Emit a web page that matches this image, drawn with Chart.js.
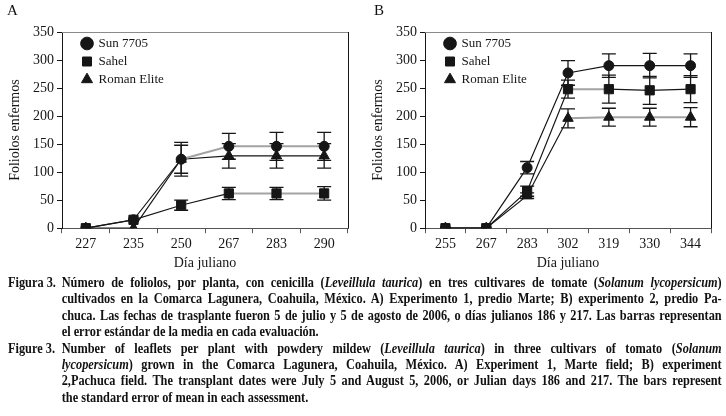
<!DOCTYPE html>
<html>
<head>
<meta charset="utf-8">
<script src="https://cdn.jsdelivr.net/npm/chart.js@4.4.1/dist/chart.umd.min.js"></script>
<style>
  html, body { margin: 0; padding: 0; background: #fff; }
  body { width: 726px; height: 416px; position: relative; overflow: hidden; font-family: "Liberation Serif", serif; color: #111; }
  .wrap { position: absolute; top: 0; width: 363px; height: 276px; }
  .panel { position: absolute; top: 3px; font-size: 15px; line-height: 15px; }
  #caption { position: absolute; left: 8px; top: 275px; transform-origin: 0 0; transform: scaleX(0.88); width: 811px; font-weight: bold; font-size: 14px; line-height: 16.4px; }
  .ln { text-align: justify; text-align-last: justify; padding-left: 61px; }
  .ln.end { text-align-last: left; }
  .lab { display: inline-block; width: 61px; margin-left: -61px; text-align-last: left; }
</style>
</head>
<body>
<div class="wrap" style="left:0"><canvas id="chartA"></canvas></div>
<div class="wrap" style="left:363px"><canvas id="chartB"></canvas></div>
<div class="panel" style="left:7px">A</div>
<div class="panel" style="left:374px">B</div>

<div id="caption">
  <div class="ln"><span class="lab">Figura 3.</span>Número de foliolos, por planta, con cenicilla (<i>Leveillula taurica</i>) en tres cultivares de tomate (<i>Solanum lycopersicum</i>)</div>
  <div class="ln">cultivados en la Comarca Lagunera, Coahuila, México. A) Experimento 1, predio Marte; B) experimento 2, predio Pa-</div>
  <div class="ln">chuca. Las fechas de trasplante fueron 5 de julio y 5 de agosto de 2006, o días julianos 186 y 217. Las barras representan</div>
  <div class="ln end">el error estándar de la media en cada evaluación.</div>
  <div class="ln"><span class="lab">Figure 3.</span>Number of leaflets per plant with powdery mildew (<i>Leveillula taurica</i>) in three cultivars of tomato (<i>Solanum</i></div>
  <div class="ln"><i>lycopersicum</i>) grown in the Comarca Lagunera, Coahuila, México. A) Experiment 1, Marte field; B) experiment</div>
  <div class="ln">2,Pachuca field. The transplant dates were July 5 and August 5, 2006, or Julian days 186 and 217. The bars represent</div>
  <div class="ln end">the standard error of mean in each assessment.</div>
</div>

<script>
// Experimento 1 (predio Marte)
const daysA = ['227', '235', '250', '267', '283', '290'];
const sunA = [0, 15, 123, 146, 146, 146];
const sunAErr = [0, 0, 30, 23, 25, 25];
const sahelA = [0, 15, 41, 62, 62, 62];
const sahelAErr = [0, 0, 9, 11, 11, 12];
const romanA = [0, 0, 123, 129, 129, 129];
const romanAErr = [0, 0, 25, 22, 22, 22];

// Experimento 2 (predio Pachuca)
const daysB = ['255', '267', '283', '302', '319', '330', '344'];
const sunB = [0, 0, 108, 277, 290, 290, 290];
const sunBErr = [0, 0, 11, 22, 21, 22, 21];
const sahelB = [0, 0, 66, 248, 248, 246, 248];
const sahelBErr = [0, 0, 9, 16, 25, 25, 24];
const romanB = [0, 0, 58, 196, 198, 198, 198];
const romanBErr = [0, 0, 5, 17, 16, 16, 17];

const yTicks = [0, 50, 100, 150, 200, 250, 300, 350];

const dark = '#161616';
const gray = '#a3a3a3';
const serif = '"Liberation Serif", serif';

// barras de error estándar
const errorBars = {
    id: 'errorBars',
    beforeDatasetsDraw(chart) {
        const ctx = chart.ctx;
        const y = chart.scales.y;
        chart.data.datasets.forEach((ds, i) => {
            const meta = chart.getDatasetMeta(i);
            ctx.save();
            ctx.strokeStyle = dark;
            ctx.lineWidth = 1.3;
            meta.data.forEach((pt, j) => {
                const e = ds.errors[j];
                if (!e) return;
                const top = y.getPixelForValue(ds.data[j] + e);
                const bot = y.getPixelForValue(ds.data[j] - e);
                ctx.beginPath();
                ctx.moveTo(pt.x, top); ctx.lineTo(pt.x, bot);
                ctx.moveTo(pt.x - 7, top); ctx.lineTo(pt.x + 7, top);
                ctx.moveTo(pt.x - 7, bot); ctx.lineTo(pt.x + 7, bot);
                ctx.stroke();
            });
            ctx.restore();
        });
    }
};

// marco superior y derecho + leyenda dentro del área de trazado
const frame = {
    id: 'frame',
    afterLayout(chart) {
        const a = chart.chartArea;
        const lg = chart.legend;
        const h = lg.bottom - lg.top;
        lg.left += 15;
        lg.right += 15;
        lg.top = a.top;
        lg.bottom = a.top + h;
    },
    afterDraw(chart) {
        const a = chart.chartArea;
        const ctx = chart.ctx;
        ctx.save();
        ctx.lineWidth = 1;
        ctx.strokeStyle = '#8a8a8a';
        ctx.beginPath(); ctx.moveTo(a.left, a.top + 0.5); ctx.lineTo(a.right, a.top + 0.5); ctx.stroke();
        ctx.strokeStyle = dark;
        ctx.beginPath(); ctx.moveTo(a.right + 0.5, a.top); ctx.lineTo(a.right + 0.5, a.bottom); ctx.stroke();
        ctx.restore();
    }
};

function series(label, data, errors, style, radius, graySegs) {
    return {
        label: label,
        data: data,
        errors: errors,
        borderColor: dark,
        backgroundColor: dark,
        borderWidth: 1.2,
        pointStyle: style,
        pointRadius: radius,
        pointBackgroundColor: dark,
        pointBorderColor: dark,
        pointBorderWidth: 1,
        tension: 0,
        segment: {
            borderColor: c => graySegs.includes(c.p0DataIndex) ? gray : dark,
            borderWidth: c => graySegs.includes(c.p0DataIndex) ? 2 : 1.2
        }
    };
}

function makeChart(id, labels, datasets) {
    new Chart(document.getElementById(id), {
        type: 'line',
        data: { labels: labels, datasets: datasets },
        plugins: [errorBars, frame],
        options: {
            responsive: true,
            maintainAspectRatio: false,
            animation: false,
            layout: { padding: { top: 32, right: 15, left: 0, bottom: 0 } },
            plugins: {
                tooltip: { enabled: false },
                legend: {
                    position: 'chartArea',
                    align: 'start',
                    labels: {
                        usePointStyle: true,
                        boxWidth: 10,
                        boxHeight: 9,
                        padding: 5,
                        color: dark,
                        font: { family: serif, size: 13 }
                    }
                }
            },
            scales: {
                x: {
                    offset: true,
                    grid: { offset: true, drawOnChartArea: false, tickLength: 5, color: '#555' },
                    border: { color: '#555', width: 1 },
                    ticks: { color: dark, padding: 4, font: { family: serif, size: 14, lineHeight: 1 } },
                    title: { display: true, text: 'Día juliano', color: dark, padding: { top: 0, bottom: 4 }, font: { family: serif, size: 14 } }
                },
                y: {
                    min: 0,
                    max: 350,
                    afterFit: s => { s.width = 62; },
                    afterBuildTicks: s => { s.ticks = yTicks.map(v => ({ value: v })); },
                    grid: { drawOnChartArea: false, tickLength: 5, color: dark },
                    border: { color: dark, width: 1 },
                    ticks: { color: dark, padding: 3, font: { family: serif, size: 14 } },
                    title: { display: true, text: 'Foliolos enfermos', color: dark, padding: { top: 7, bottom: 0 }, font: { family: serif, size: 14 } }
                }
            }
        }
    });
}

makeChart('chartA', daysA, [
    series('Sun 7705', sunA, sunAErr, 'circle', 5, [2, 3, 4]),
    series('Sahel', sahelA, sahelAErr, 'rect', 6.5, [3, 4]),
    series('Roman Elite', romanA, romanAErr, 'triangle', 6, [])
]);

makeChart('chartB', daysB, [
    series('Sun 7705', sunB, sunBErr, 'circle', 5, []),
    series('Sahel', sahelB, sahelBErr, 'rect', 6.5, [3]),
    series('Roman Elite', romanB, romanBErr, 'triangle', 6, [3, 4, 5])
]);
</script>
</body>
</html>
